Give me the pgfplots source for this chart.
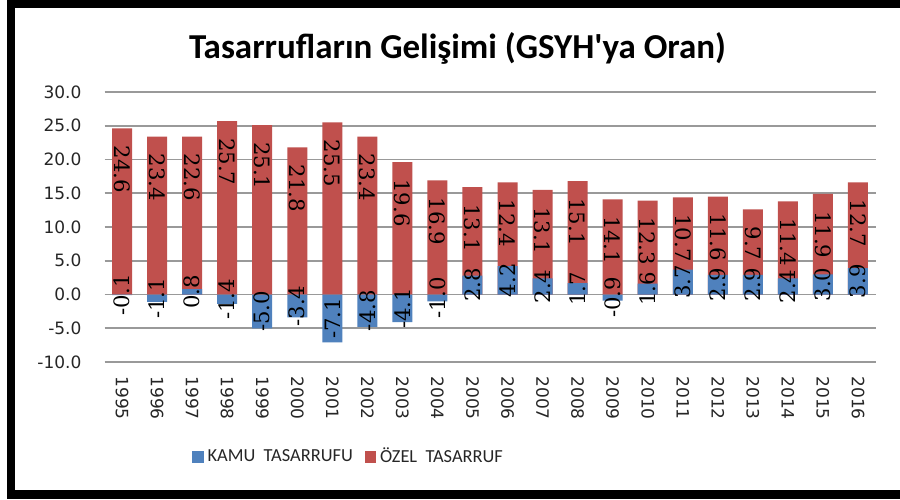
\documentclass[border=0pt]{standalone}
\usepackage{pgfplots}
\pgfplotsset{compat=1.18}
\usepackage{pgfplotstable}
\usepackage{fontspec}
\setmainfont{DejaVu Sans}
\newfontfamily\carlito{Carlito}
\newfontfamily\dvserif{DejaVu Serif}
\definecolor{kamu}{HTML}{4F81BD}
\definecolor{ozel}{HTML}{C0504D}

\pgfplotstableread{
idx k oz
0 -0.1 24.6
1 -1.1 23.4
2 0.8 22.6
3 -1.4 25.7
4 -5.0 25.1
5 -3.4 21.8
6 -7.1 25.5
7 -4.8 23.4
8 -4.1 19.6
9 -1.0 16.9
10 2.8 13.1
11 4.2 12.4
12 2.4 13.1
13 1.7 15.1
14 -0.9 14.1
15 1.6 12.3
16 3.7 10.7
17 2.9 11.6
18 2.9 9.7
19 2.4 11.4
20 3.0 11.9
21 3.9 12.7
}\data

\begin{document}
\begin{tikzpicture}[x=1pt,y=1pt]
\path[use as bounding box, fill=white] (0,0) rectangle (450,249.5);
\fill[black] (3.5,0) rectangle (7.5,249.5);
\fill[black] (3.5,245.5) rectangle (450,249.5);
\fill[black] (3.5,0) rectangle (450,4.5);
\node[font=\carlito\bfseries\fontsize{17.5}{20}\selectfont] at (228.75,225.5) {Tasarrufların Gelişimi (GSYH'ya Oran)};
\begin{axis}[
  at={(52.25pt,68.5pt)}, anchor=south west,
  scale only axis, width=385.5pt, height=135pt,
  xmin=-0.5, xmax=21.5, ymin=-10, ymax=30,
  ytick={-10,-5,...,30},
  xtick={0,...,21},
  xticklabels={1995,1996,1997,1998,1999,2000,2001,2002,2003,2004,2005,2006,2007,2008,2009,2010,2011,2012,2013,2014,2015,2016},
  ymajorgrids, grid style={black!40, line width=0.8pt},
  axis line style={draw=none},
  major tick length=0pt,
  /pgf/number format/fixed, /pgf/number format/fixed zerofill,
  /pgf/number format/precision=1, /pgf/number format/assume math mode=true,
  ticklabel style={font=\fontsize{8.5}{10}\selectfont, text=black!85},
  yticklabel style={xshift=-8pt},
  xticklabel style={rotate=-90, anchor=west, inner xsep=7pt},
  legend style={draw=none, fill=none, at={(0.318,-0.352)}, anchor=center,
    font=\carlito\fontsize{9.2}{11}\selectfont, text=black!85,
    /tikz/every even column/.append style={column sep=4pt}},
  legend columns=2,
]
\addplot[ybar, bar width=10pt, bar shift=0pt, draw=none, fill=ozel, forget plot]
  table[x=idx, y expr={\thisrow{oz}+max(\thisrow{k},0)}] {\data};
\addplot[ybar, bar width=10pt, bar shift=0pt, draw=none, fill=kamu, forget plot]
  table[x=idx, y=k] {\data};
\addplot[ybar, bar width=10pt, bar shift=0pt, draw=none, fill=none, forget plot,
  nodes near coords, point meta=explicit,
  nodes near coords style={font=\dvserif\fontsize{10.6}{12}\selectfont, text=black, rotate=-90, anchor=west}]
  table[x=idx, y expr={\thisrow{oz}+max(\thisrow{k},0)-1.5}, meta=oz] {\data};
\addplot[ybar, bar width=10pt, bar shift=0pt, draw=none, fill=none, forget plot,
  nodes near coords, point meta=explicit,
  nodes near coords style={font=\dvserif\fontsize{10.6}{12}\selectfont, text=black, rotate=90, anchor=center}]
  table[x=idx, y expr={\thisrow{k}/2}, meta=k] {\data};
\addlegendimage{legend image code/.code={\fill[kamu] (0pt,-2.6pt) rectangle (5.2pt,2.6pt);}}
\addlegendentry{KAMU\ \ TASARRUFU}
\addlegendimage{legend image code/.code={\fill[ozel] (0pt,-2.6pt) rectangle (5.2pt,2.6pt);}}
\addlegendentry{ÖZEL\ \ TASARRUF}
\end{axis}
\end{tikzpicture}
\end{document}
